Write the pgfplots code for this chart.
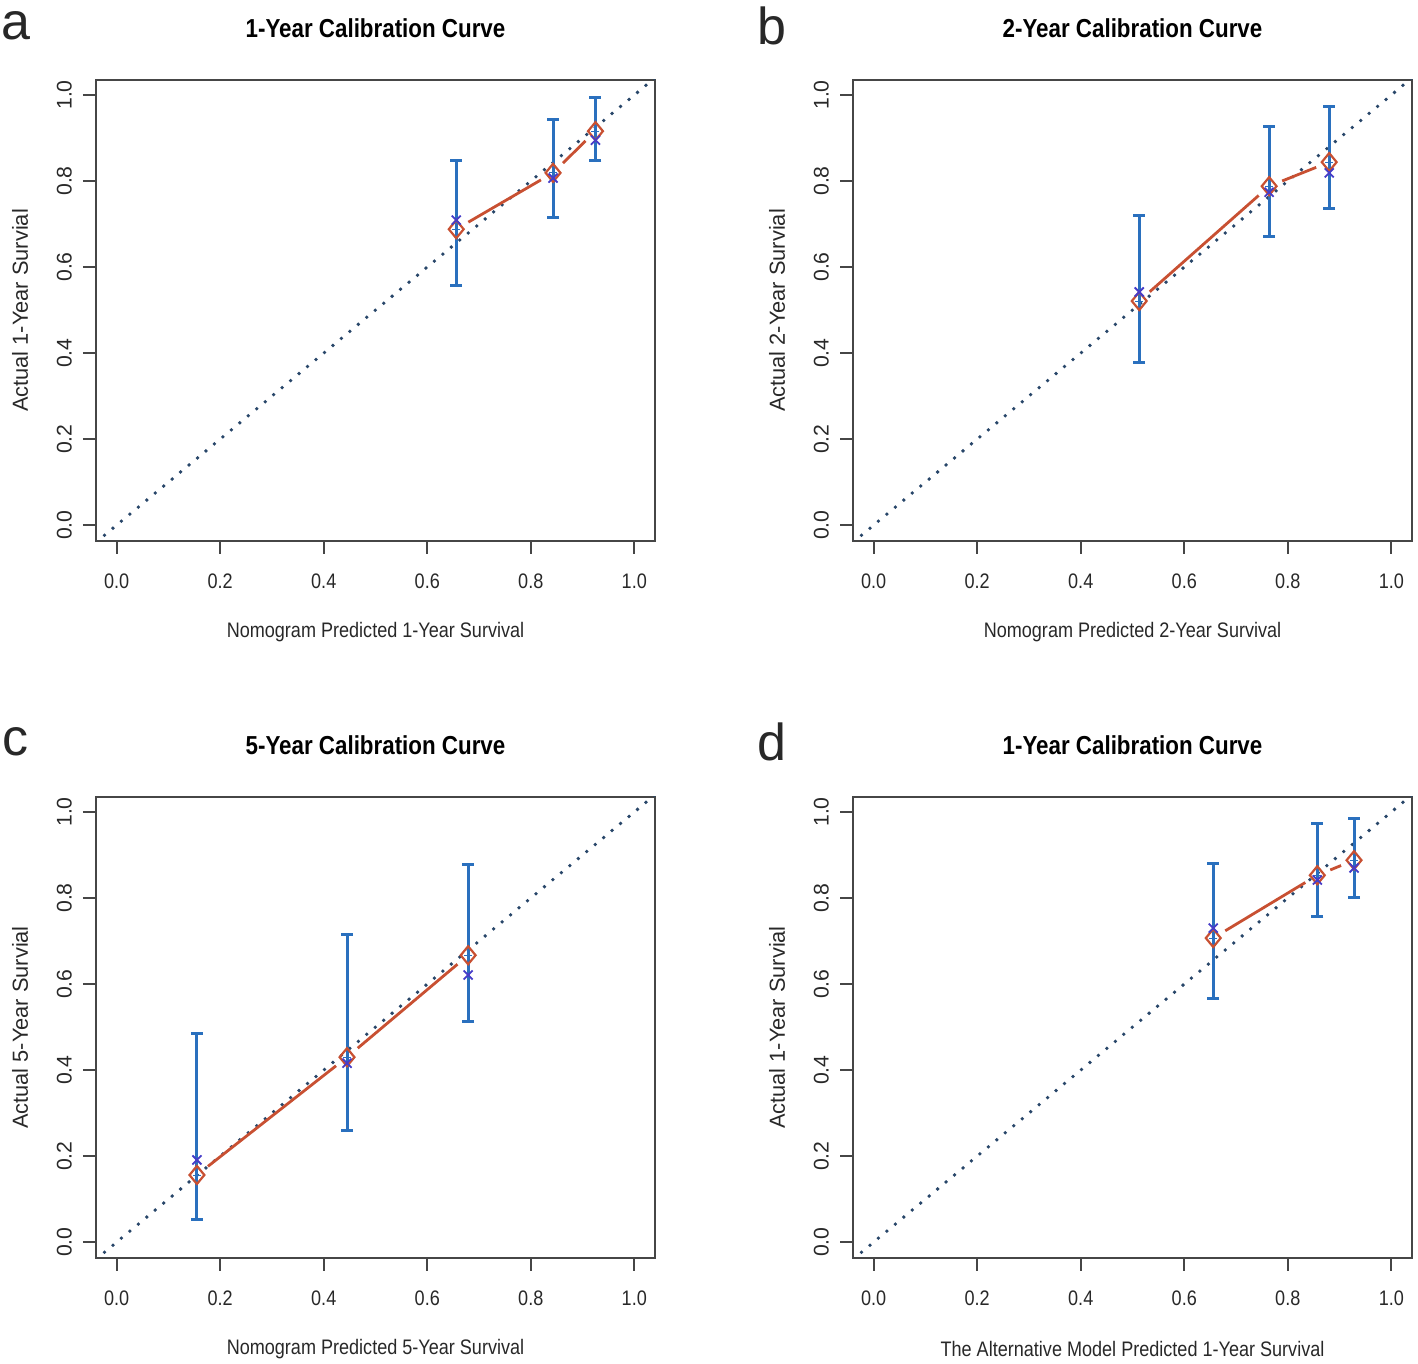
\documentclass[border=0pt]{standalone}
\usepackage{fontspec}
\setmainfont{Liberation Sans}[FakeStretch=0.86]
\newfontfamily\labfont{Liberation Sans}
\newfontfamily\rotfont{Liberation Sans}
\usepackage{pgfplots}
\pgfplotsset{compat=1.18}
\definecolor{ebar}{RGB}{42,112,190}
\definecolor{diam}{RGB}{200,80,50}
\definecolor{xmk}{RGB}{70,60,200}
\definecolor{diag}{RGB}{40,70,105}
\definecolor{boxc}{RGB}{70,70,70}
\definecolor{txt}{RGB}{40,40,40}
\pgfplotsset{calib/.style={
  scale only axis, width=279.5pt, height=230.5pt,
  anchor=south west,
  xmin=-0.04, xmax=1.04, ymin=-0.037, ymax=1.035,
  xtick={0,0.2,0.4,0.6,0.8,1}, ytick={0,0.2,0.4,0.6,0.8,1},
  xticklabels={0.0,0.2,0.4,0.6,0.8,1.0}, yticklabels={0.0,0.2,0.4,0.6,0.8,1.0},
  xtick pos=bottom, ytick pos=left, tick align=outside,
  major tick length=6.5pt,
  tick style={boxc, line width=0.9pt},
  axis line style={boxc, line width=1pt},
  /pgf/number format/assume math mode=true,
  xticklabel style={font=\fontsize{10.5}{12}\selectfont, text=txt},
  xticklabel shift=6.5pt,
  yticklabel shift=2pt,
  yticklabel style={font=\rotfont\fontsize{10.6}{12}\selectfont, text=txt, rotate=90, anchor=south},
  xlabel style={font=\fontsize{10.5}{12}\selectfont, text=txt},
  ylabel style={font=\rotfont\fontsize{10.9}{12}\selectfont, text=txt},
  title style={font=\fontsize{13}{15}\selectfont\bfseries, at={([yshift=20pt]axis description cs:0.5,1)}, anchor=center},
  xlabel style={at={([yshift=-45.5pt]axis description cs:0.5,0)}, anchor=center},
  ylabel style={at={([xshift=-38pt]axis description cs:0,0.5)}, anchor=center},
  diagline/.style={diag, line width=1.9pt, line cap=round, dash pattern=on 0pt off 5.5pt, mark=none},
  ebars/.style={ebar, only marks, mark=-, mark options={draw=none},
     error bars/.cd, y dir=both, y explicit,
     error mark=|,
     error bar style={ebar, line width=1.5pt, solid},
     error mark options={ebar, draw=ebar, line width=1.5pt, mark size=3pt}},
  seg/.style={diam, line width=1.4pt, mark=none, shorten >=7pt, shorten <=7pt},
  diams/.style={diam, only marks, mark=diamond, mark size=4.5pt, mark options={line width=1.1pt, fill=none, xscale=1.1}},
  xs/.style={xmk, only marks, mark=x, mark size=3.2pt, mark options={line width=0.9pt}},
}}
\begin{document}
\begin{tikzpicture}
\useasboundingbox (0pt,0pt) rectangle (709pt,682pt);
\node[font=\labfont\fontsize{26}{28}\selectfont, text=txt] at (8pt,669pt) {a};
\node[font=\labfont\fontsize{26}{28}\selectfont, text=txt] at (386pt,669pt) {b};
\node[font=\labfont\fontsize{26}{28}\selectfont, text=txt] at (8pt,311pt) {c};
\node[font=\labfont\fontsize{26}{28}\selectfont, text=txt] at (386pt,311pt) {d};
% panel a
\begin{axis}[calib, at={(48pt,411.5pt)}, title={1-Year Calibration Curve},
  xlabel={Nomogram Predicted 1-Year Survival}, ylabel={Actual 1-Year Survial}]
\addplot[diagline] coordinates {(-0.04,-0.04)(1.04,1.04)};
\addplot[ebars] coordinates {(0.656,0.688) += (0,0.159) -= (0,0.130)
  (0.843,0.819) += (0,0.125) -= (0,0.103) (0.925,0.916) += (0,0.079) -= (0,0.069)};
\addplot[seg] coordinates {(0.656,0.688)(0.843,0.819)};
\addplot[seg] coordinates {(0.843,0.819)(0.925,0.916)};
\addplot[diams] coordinates {(0.656,0.688)(0.843,0.819)(0.925,0.916)};
\addplot[xs] coordinates {(0.656,0.709)(0.843,0.807)(0.925,0.895)};
\end{axis}
% panel b
\begin{axis}[calib, at={(426.5pt,411.5pt)}, title={2-Year Calibration Curve},
  xlabel={Nomogram Predicted 2-Year Survival}, ylabel={Actual 2-Year Survial}]
\addplot[diagline] coordinates {(-0.04,-0.04)(1.04,1.04)};
\addplot[ebars] coordinates {(0.513,0.521) += (0,0.198) -= (0,0.144)
  (0.764,0.788) += (0,0.138) -= (0,0.116) (0.880,0.844) += (0,0.130) -= (0,0.109)};
\addplot[seg] coordinates {(0.513,0.521)(0.764,0.788)};
\addplot[seg] coordinates {(0.764,0.788)(0.880,0.844)};
\addplot[diams] coordinates {(0.513,0.521)(0.764,0.788)(0.880,0.844)};
\addplot[xs] coordinates {(0.513,0.542)(0.764,0.774)(0.880,0.819)};
\end{axis}
% panel c
\begin{axis}[calib, at={(48pt,53pt)}, title={5-Year Calibration Curve},
  xlabel={Nomogram Predicted 5-Year Survival}, ylabel={Actual 5-Year Survial}]
\addplot[diagline] coordinates {(-0.04,-0.04)(1.04,1.04)};
\addplot[ebars] coordinates {(0.155,0.156) += (0,0.330) -= (0,0.103)
  (0.445,0.430) += (0,0.286) -= (0,0.170) (0.679,0.667) += (0,0.212) -= (0,0.155)};
\addplot[seg] coordinates {(0.155,0.156)(0.445,0.430)};
\addplot[seg] coordinates {(0.445,0.430)(0.679,0.667)};
\addplot[diams] coordinates {(0.155,0.156)(0.445,0.430)(0.679,0.667)};
\addplot[xs] coordinates {(0.155,0.191)(0.445,0.416)(0.679,0.621)};
\end{axis}
% panel d
\begin{axis}[calib, at={(426.5pt,53pt)}, title={1-Year Calibration Curve},
  xlabel={The Alternative Model Predicted 1-Year Survival}, ylabel={Actual 1-Year Survial}]
\addplot[diagline] coordinates {(-0.04,-0.04)(1.04,1.04)};
\addplot[ebars] coordinates {(0.656,0.707) += (0,0.174) -= (0,0.140)
  (0.857,0.853) += (0,0.121) -= (0,0.097) (0.928,0.888) += (0,0.098) -= (0,0.086)};
\addplot[seg] coordinates {(0.656,0.707)(0.857,0.853)};
\addplot[seg] coordinates {(0.857,0.853)(0.928,0.888)};
\addplot[diams] coordinates {(0.656,0.707)(0.857,0.853)(0.928,0.888)};
\addplot[xs] coordinates {(0.656,0.730)(0.857,0.842)(0.928,0.870)};
\end{axis}
\end{tikzpicture}
\end{document}
